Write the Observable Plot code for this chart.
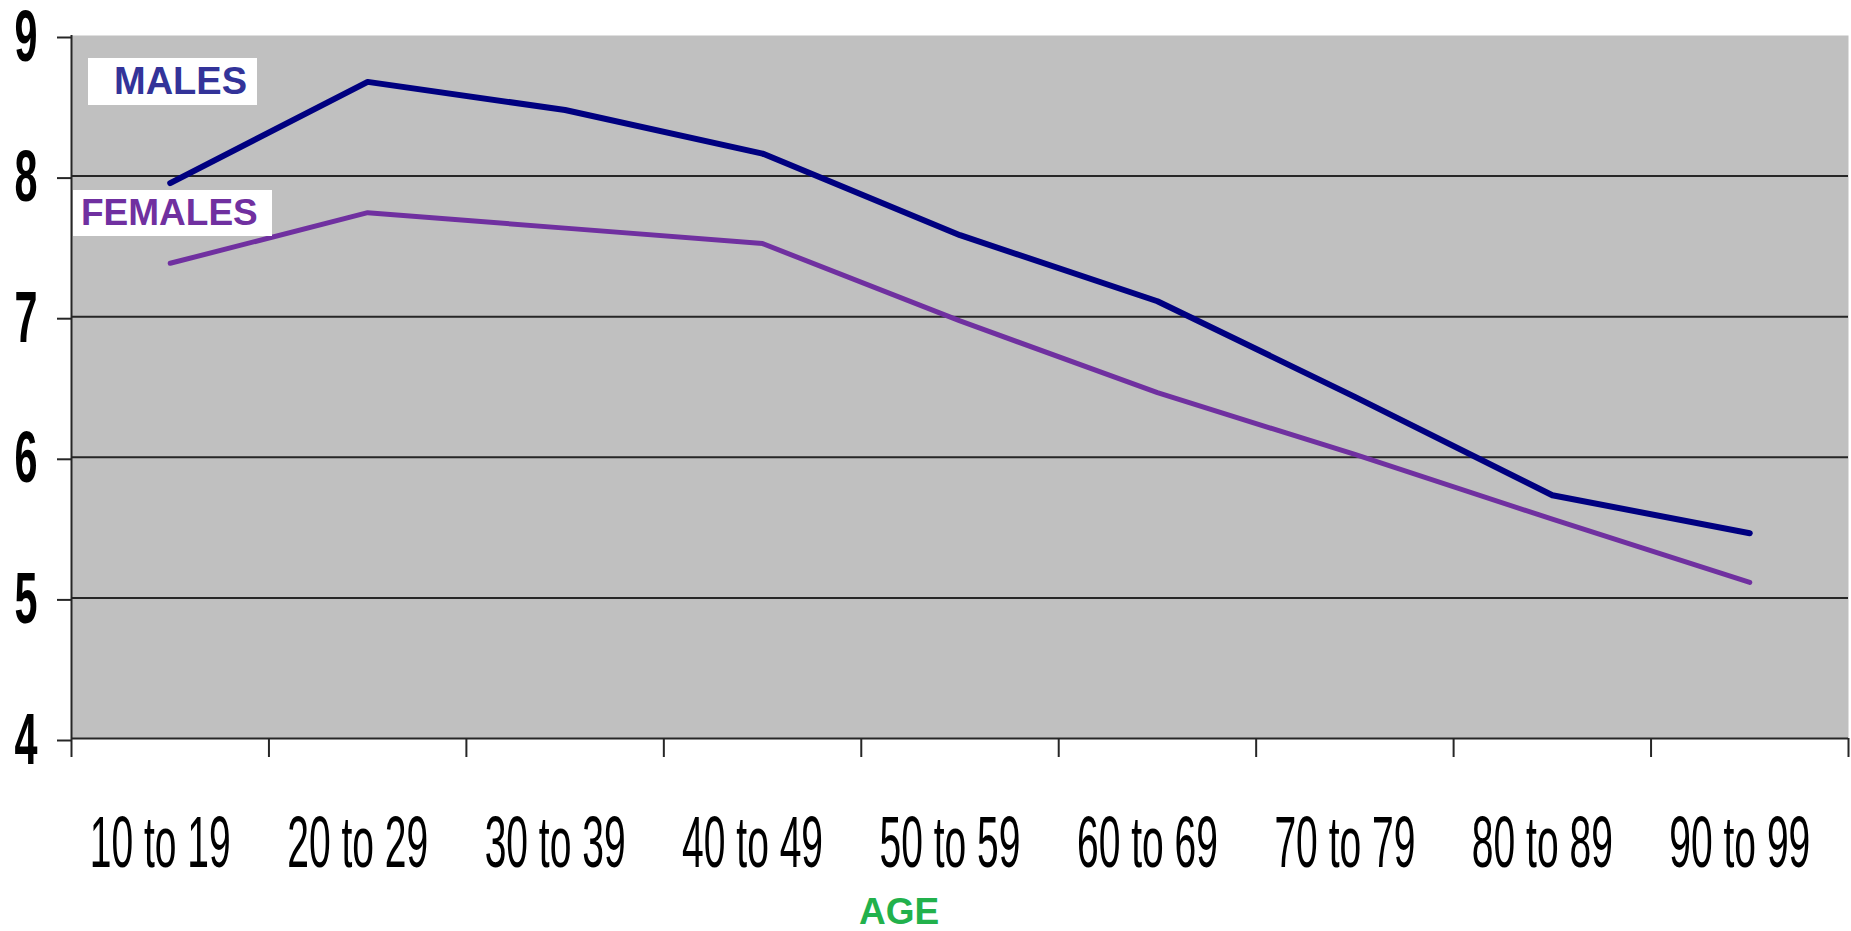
<!DOCTYPE html>
<html><head><meta charset="utf-8">
<script src="https://cdn.jsdelivr.net/npm/d3@7"></script>
<script src="https://cdn.jsdelivr.net/npm/@observablehq/plot@0.6"></script>
<style>
html,body{margin:0;padding:0;background:#fff;overflow:hidden}
#wrap{position:relative;width:1851px;height:931px}
.lbl{position:absolute;background:#fff;font-family:"Liberation Sans",Arial,sans-serif;font-weight:bold;box-sizing:border-box;white-space:nowrap}
</style></head><body><div id="wrap"></div>
<script>
// ---- data ----
const categories = ["10 to 19","20 to 29","30 to 39","40 to 49","50 to 59","60 to 69","70 to 79","80 to 89","90 to 99"];
const males   = [7.95, 8.67, 8.47, 8.16, 7.58, 7.11, 6.43, 5.73, 5.46];
const females = [7.38, 7.74, 7.63, 7.52, 6.97, 6.46, 6.02, 5.56, 5.11];
const yTicks = [4, 5, 6, 7, 8, 9];
const gridTicks = [5, 6, 7, 8];
const seriesNames = ["MALES", "FEMALES"];
const xTitle = "AGE";

const idx = d3.range(categories.length);
const boundaries = d3.range(-0.5, categories.length, 1);
const font = '"Liberation Sans", Arial, sans-serif';

const chart = Plot.plot({
  width: 1851, height: 931,
  marginLeft: 71, marginRight: 3, marginTop: 35, marginBottom: 193,
  style: {background: "transparent", fontFamily: font, overflow: "visible"},
  x: {domain: [-0.5, categories.length - 0.5], axis: null},
  y: {domain: [yTicks[0], yTicks[yTicks.length - 1]], axis: null},
  marks: [
    Plot.frame({fill: "#c0c0c0", stroke: null}),
    Plot.gridY(gridTicks, {stroke: "#262626", strokeOpacity: 1, strokeWidth: 2}),
    Plot.ruleY([yTicks[0]], {stroke: "#262626", strokeWidth: 2}),
    Plot.ruleX([boundaries[0]], {stroke: "#262626", strokeWidth: 2}),
    Plot.axisX(boundaries, {tickSize: 19, tickFormat: () => "", stroke: "#262626", strokeWidth: 2, label: null}),
    Plot.axisX(idx, {tickSize: 0, tickPadding: 77, dx: -10, tickFormat: i => categories[i], fontSize: 72, fill: "#000", label: null}),
    Plot.axisY(yTicks, {tickSize: 14, tickPadding: 20, dy: 2, fontSize: 72, fontWeight: "bold", tickFormat: d => String(d), fill: "#000", stroke: "#262626", strokeWidth: 2, label: null}),
    Plot.line(males, {x: (d, i) => i, y: d => d, stroke: "#000080", strokeWidth: 6, strokeLinejoin: "round"}),
    Plot.line(females, {x: (d, i) => i, y: d => d, stroke: "#7030a0", strokeWidth: 5, strokeLinejoin: "round"}),
    Plot.text([xTitle], {frameAnchor: "bottom", dx: -61, dy: 174, fill: "#22b14c", fontSize: 37, fontWeight: "bold", lineAnchor: "middle"})
  ]
});
document.getElementById("wrap").appendChild(chart);

// condense tick labels horizontally (the reference uses tall, narrow glyphs)
function condense(texts, targetWidth, refIndex) {
  if (!texts.length) return;
  const w = texts[Math.min(refIndex, texts.length - 1)].getBBox().width;
  if (!(w > 0)) return;
  const sx = targetWidth / w;
  texts.forEach(t => {
    const tr = t.getAttribute("transform");
    if (tr) t.setAttribute("transform", tr + ` scale(${sx},1)`);
    else {
      const x = +t.getAttribute("x") || 0;
      t.setAttribute("x", x / sx);
      t.setAttribute("transform", `scale(${sx},1)`);
    }
  });
}
const allTexts = Array.from(chart.querySelectorAll("text"));
const yStr = yTicks.map(String);
condense(allTexts.filter(t => categories.includes(t.textContent)), 141, 0);
condense(allTexts.filter(t => yStr.includes(t.textContent)), 23, 1);

// series labels
const wrap = document.getElementById("wrap");
const boxes = [
  {name: seriesNames[0], color: "#333399", left: 88, top: 58, w: 169, h: 47, pad: 26, fs: 38},
  {name: seriesNames[1], color: "#7030a0", left: 73, top: 190, w: 199, h: 46, pad: 8, fs: 37}
];
boxes.forEach(b => {
  const d = document.createElement("div");
  d.className = "lbl";
  d.textContent = b.name;
  Object.assign(d.style, {left: b.left + "px", top: b.top + "px", width: b.w + "px", height: b.h + "px",
    lineHeight: b.h + "px", paddingLeft: b.pad + "px", color: b.color, fontSize: b.fs + "px"});
  wrap.appendChild(d);
});
</script>
</body></html>
